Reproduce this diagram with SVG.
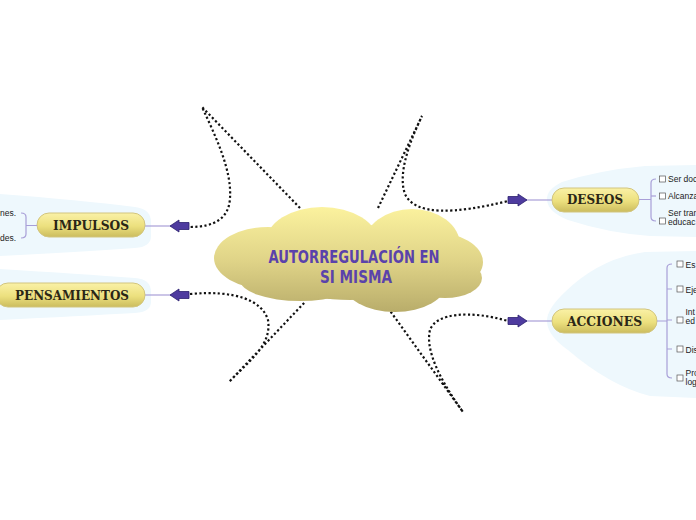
<svg xmlns="http://www.w3.org/2000/svg" width="696" height="520" viewBox="0 0 696 520">
<defs>
<linearGradient id="cloudG" gradientUnits="userSpaceOnUse" x1="0" y1="207" x2="0" y2="313">
<stop offset="0" stop-color="#fbf29e"/>
<stop offset="0.5" stop-color="#e0d488"/>
<stop offset="1" stop-color="#b8ac6a"/>
</linearGradient>
<linearGradient id="pillG" x1="0" y1="0" x2="0" y2="1">
<stop offset="0" stop-color="#faf1a6"/>
<stop offset="0.55" stop-color="#ece07e"/>
<stop offset="1" stop-color="#cbbc5e"/>
</linearGradient>
<path id="arrowR" d="M0,0 L-9,-6 L-9,-3.5 L-19,-3.5 L-19,3.5 L-9,3.5 L-9,6 Z"/>
</defs>
<style>
.bg{fill:#eef8fd}
.dot{fill:none;stroke:#111;stroke-width:2.2;stroke-dasharray:2.2 2.4}
.lav{fill:none;stroke:#a89fd8;stroke-width:1.2}
.arr{fill:#4e3b9f;stroke:#2b1f6e;stroke-width:0.8}
.pill{fill:url(#pillG);stroke:#d2c57e;stroke-width:1}
.topic{font-family:"DejaVu Serif",serif;font-weight:bold;font-size:12.5px;fill:#2a2616}
.sub{font-family:"Liberation Sans",Arial,sans-serif;font-size:8.5px;fill:#222}
.box{fill:#fff;stroke:#555;stroke-width:0.7}
.title{font-family:"DejaVu Sans Condensed","DejaVu Sans",sans-serif;font-weight:bold;font-size:17px;fill:#5a42ab}
</style>
<rect width="696" height="520" fill="#fff"/>

<!-- background branch areas -->
<path class="bg" d="M0,194 Q80,200 135,207 Q151,209 151,222 L151,236 Q151,247 135,248 Q80,252 0,256 Z"/>
<path class="bg" d="M0,269 Q80,274 135,278 Q151,279 151,292 L151,302 Q151,312 135,313 Q80,316 0,320 Z"/>
<path class="bg" d="M696,165 L645,166 Q600,170 562,182 Q546,190 547,200 Q548,212 568,220 Q608,233 650,236 L696,237 Z"/>
<path class="bg" d="M696,251 L645,252 Q600,258 565,292 Q546,310 547,322 Q548,336 568,350 Q610,386 650,396 L696,398 Z"/>

<!-- connectors -->
<g id="connectors">
<path class="dot" d="M300,208 L202,107 C215,135 232,170 230,198 C229,218 215,227 190,227"/>
<path class="dot" d="M190,294 C235,290 262,300 268,320 C272,345 250,360 229,382 L305,302"/>
<path class="dot" d="M378,208 L422,116 C408,145 398,175 405,194 C415,216 455,214 508,201"/>
<path class="dot" d="M388,308 L463,412 C440,380 425,350 430,330 C436,313 470,310 508,321"/>
<line class="lav" x1="145" y1="226" x2="172" y2="226"/>
<line class="lav" x1="145" y1="295" x2="172" y2="295"/>
<line class="lav" x1="525" y1="200" x2="552" y2="200"/>
<line class="lav" x1="525" y1="321" x2="552" y2="321"/>
<use href="#arrowR" class="arr" transform="translate(170,226) rotate(180)"/>
<use href="#arrowR" class="arr" transform="translate(170,295) rotate(180)"/>
<use href="#arrowR" class="arr" transform="translate(527,200)"/>
<use href="#arrowR" class="arr" transform="translate(527,321)"/>
</g>

<!-- central cloud -->
<g id="central">
<g fill="url(#cloudG)">
<ellipse cx="322" cy="242" rx="56" ry="35"/>
<ellipse cx="412" cy="245" rx="48" ry="36"/>
<ellipse cx="268" cy="258" rx="54" ry="31"/>
<ellipse cx="432" cy="262" rx="51" ry="30"/>
<ellipse cx="300" cy="280" rx="60" ry="21"/>
<ellipse cx="395" cy="282" rx="52" ry="30"/>
<ellipse cx="445" cy="278" rx="37" ry="20"/>
<ellipse cx="350" cy="262" rx="90" ry="38"/>
</g>
<text class="title" x="354" y="263" text-anchor="middle" textLength="171" lengthAdjust="spacingAndGlyphs">AUTORREGULACIÓN EN</text>
<text class="title" x="356" y="283" text-anchor="middle" textLength="72" lengthAdjust="spacingAndGlyphs">SI MISMA</text>
</g>

<!-- IMPULSOS -->
<g id="impulsos">
<rect class="pill" x="37" y="213" width="108" height="24" rx="12"/>
<text class="topic" x="91" y="229.5" text-anchor="middle" textLength="76" lengthAdjust="spacingAndGlyphs">IMPULSOS</text>
<path class="lav" d="M37,225.5 L26,225.5 M21,213 Q26,213 26,217 L26,234 Q26,238 21,238"/>
<text class="sub" x="16" y="216" text-anchor="end">ones.</text>
<text class="sub" x="16" y="241" text-anchor="end">des.</text>
</g>

<!-- PENSAMIENTOS -->
<g id="pensamientos">
<rect class="pill" x="-4" y="283" width="149" height="24" rx="12"/>
<text class="topic" x="72" y="299.5" text-anchor="middle" textLength="114" lengthAdjust="spacingAndGlyphs">PENSAMIENTOS</text>
</g>

<!-- DESEOS -->
<g id="deseos">
<rect class="pill" x="552" y="188" width="87" height="24" rx="12"/>
<text class="topic" x="595" y="204" text-anchor="middle" textLength="56" lengthAdjust="spacingAndGlyphs">DESEOS</text>
<path class="lav" d="M639,199.5 L651,199.5 M656,179 Q651,179 651,183 L651,217 Q651,221 656,221"/>
<line class="lav" x1="651" y1="196" x2="656" y2="196"/>
<rect class="box" x="659.5" y="176" width="6" height="6"/>
<rect class="box" x="659.5" y="193" width="6" height="6"/>
<rect class="box" x="659.5" y="218" width="6" height="6"/>
<text class="sub" x="668" y="182">Ser doc</text>
<text class="sub" x="668" y="199">Alcanza</text>
<text class="sub" x="668" y="216">Ser tran</text>
<text class="sub" x="668" y="225">educac</text>
</g>

<!-- ACCIONES -->
<g id="acciones">
<rect class="pill" x="552" y="309" width="105" height="24" rx="12"/>
<text class="topic" x="604.5" y="325.5" text-anchor="middle" textLength="75" lengthAdjust="spacingAndGlyphs">ACCIONES</text>
<path class="lav" d="M657,321 L667,321 M672,264 Q667,264 667,268 L667,374 Q667,378 672,378"/>
<path class="lav" d="M667,289 L672,289 M667,320 L672,320 M667,349 L672,349"/>
<rect class="box" x="677" y="261" width="6" height="6"/>
<rect class="box" x="677" y="286" width="6" height="6"/>
<rect class="box" x="677" y="317" width="6" height="6"/>
<rect class="box" x="677" y="346" width="6" height="6"/>
<rect class="box" x="677" y="375" width="6" height="6"/>
<text class="sub" x="685.5" y="267.5">Es</text>
<text class="sub" x="685.5" y="292.5">Eje</text>
<text class="sub" x="685.5" y="315">Int</text>
<text class="sub" x="685.5" y="324">ed</text>
<text class="sub" x="685.5" y="352.5">Dis</text>
<text class="sub" x="685.5" y="376">Pro</text>
<text class="sub" x="685.5" y="385">log</text>
</g>
</svg>
